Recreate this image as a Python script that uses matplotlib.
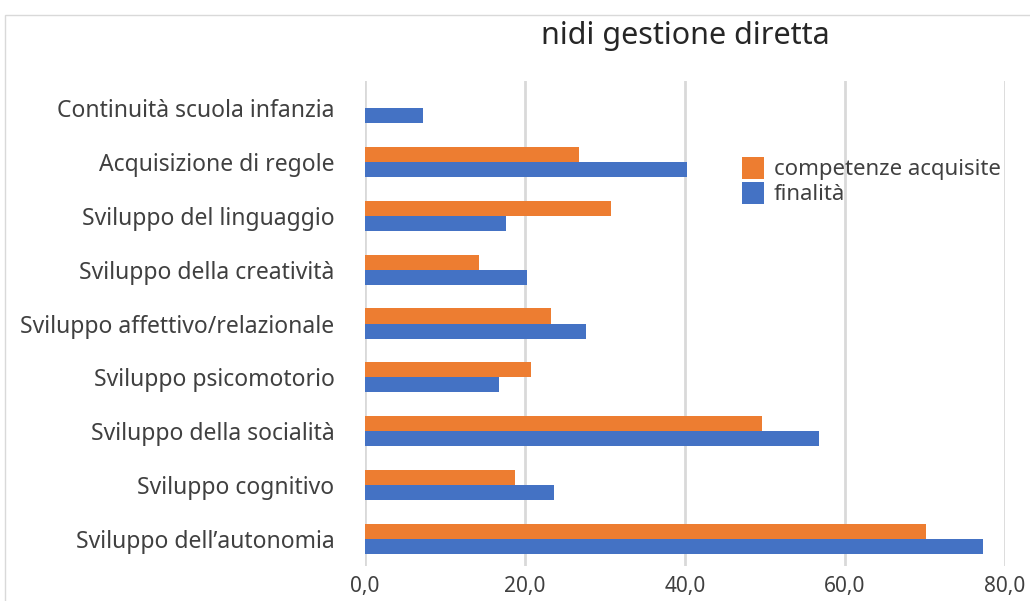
import numpy as np
import matplotlib
matplotlib.use("Agg")
import matplotlib.pyplot as plt
from matplotlib.ticker import FuncFormatter
from matplotlib.patches import Rectangle

plt.rcParams['font.family'] = ['Noto Sans', 'DejaVu Sans']

# categories listed bottom to top, as drawn
categories = ["Sviluppo dell\u2019autonomia", "Sviluppo cognitivo", "Sviluppo della socialità",
              "Sviluppo psicomotorio", "Sviluppo affettivo/relazionale", "Sviluppo della creatività",
              "Sviluppo del linguaggio", "Acquisizione di regole", "Continuità scuola infanzia"]
competenze = [70.1, 18.8, 49.6, 20.8, 23.2, 14.2, 30.8, 26.8, 0.0]
finalita = [77.3, 23.6, 56.8, 16.8, 27.6, 20.2, 17.6, 40.2, 7.2]
x_ticks = [0, 20, 40, 60, 80]

orange = "#ED7D31"
blue = "#4472C4"
text_col = "#404040"

W, H = 1030, 601
fig = plt.figure(figsize=(W / 100, H / 100), dpi=100)
# axes placed in pixel terms
left, right, top, bottom = 365, 1005, 81, 566
ax = fig.add_axes([left / W, 1 - bottom / H, (right - left) / W, (bottom - top) / H])

y = np.arange(len(categories))
h = 0.28
ax.barh(y + h / 2, competenze, height=h, color=orange, label="competenze acquisite", zorder=3)
ax.barh(y - h / 2, finalita, height=h, color=blue, label="finalità", zorder=3)

ax.set_xlim(0, 80)
ax.set_ylim(-0.5, len(categories) - 0.5)
ax.set_xticks(x_ticks)
ax.xaxis.set_major_formatter(FuncFormatter(lambda v, p: f"{v:.1f}".replace(".", ",")))
ax.set_yticks(y)
ax.set_yticklabels(categories)

ax.grid(axis="x", color="#D9D9D9", linewidth=2.0, zorder=0)
ax.set_axisbelow(True)
for s in ax.spines.values():
    s.set_visible(False)
ax.tick_params(axis="both", length=0, colors=text_col)
ax.tick_params(axis="x", labelsize=15, pad=7)
ax.tick_params(axis="y", labelsize=16.5, pad=22)

fig.text(685 / W, 1 - 36 / H, "nidi gestione diretta", ha="center", va="center",
         fontsize=22, color="#262626")

ax.legend(loc="upper left", bbox_to_anchor=(733 / W, 1 - 148 / H), bbox_transform=fig.transFigure,
          frameon=False, fontsize=16, handlelength=1.0, handleheight=1.15, handletextpad=0.45,
          labelspacing=0.05, borderaxespad=0, labelcolor=text_col)

# outer chart border (cropped by the image edges)
fig.patches.append(Rectangle((5 / W, -0.1), 1.2, 1 - 15 / H + 0.1, transform=fig.transFigure,
                             fill=False, edgecolor="#D9D9D9", linewidth=1.0))

fig.savefig("out.png", dpi=100)
